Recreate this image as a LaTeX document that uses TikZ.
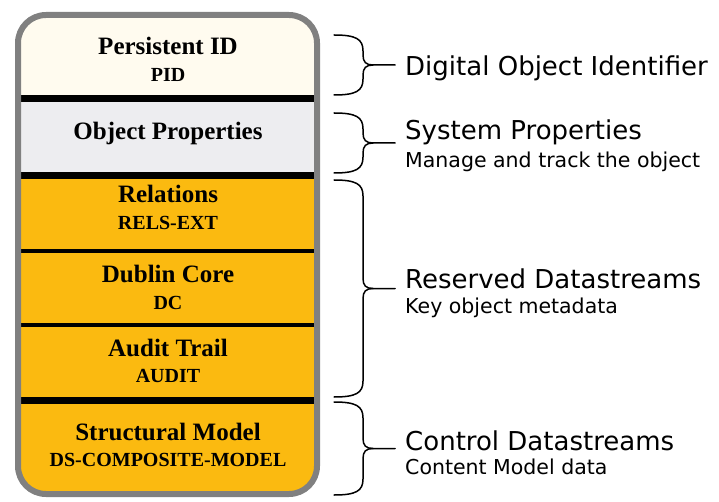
\documentclass[tikz,border=0pt]{standalone}
\usepackage{fontspec}
\setmainfont{Liberation Serif}
\newfontfamily\labelfont{DejaVu Sans}
\usepackage{xcolor}
\usetikzlibrary{positioning}

\definecolor{pidcream}{HTML}{FFFBEF}
\definecolor{propgrey}{HTML}{EDEDF0}
\definecolor{dsorange}{HTML}{FBBA10}
\definecolor{framegrey}{HTML}{808080}

\tikzset{
  head/.style={font=\bfseries\fontsize{25}{28}\selectfont, inner sep=0pt, anchor=base},
  tag/.style={font=\bfseries\fontsize{20}{22}\selectfont, inner sep=0pt, anchor=base},
  bigtext/.style={font=\labelfont\fontsize{26}{30}\selectfont, inner sep=0pt, anchor=base west},
  smalltext/.style={font=\labelfont\fontsize{20.5}{24}\selectfont, inner sep=0pt, anchor=base west},
  bracket/.style={line width=1.5pt, line cap=round},
  thickbar/.style={line width=7pt},
  thinbar/.style={line width=4pt},
}

% curly bracket on the right of the stack: top y, bottom y, tip name
\newcommand{\sidebrace}[3]{%
  \pgfmathsetmacro\braceMid{(#1+#2)/2}
  \draw[bracket] (334,#1) .. controls (356,#1) and (363,#1+4) .. (363,#1+16)
    -- (363,\braceMid-10) .. controls (363,\braceMid-3) and (366,\braceMid) .. (373,\braceMid)
    -- (395,\braceMid) coordinate (#3);
  \draw[bracket] (373,\braceMid) .. controls (366,\braceMid) and (363,\braceMid+3) .. (363,\braceMid+10)
    -- (363,#2-16) .. controls (363,#2-4) and (356,#2) .. (334,#2);
}

\begin{document}
\begin{tikzpicture}[x=1pt, y=-1pt]
  \useasboundingbox (0,0) rectangle (719,502);

  % the object stack
  \begin{scope}
    \clip[rounded corners=26pt] (18,15) rectangle (317,494);
    \fill[pidcream] (18,15) rectangle (317,98);
    \fill[propgrey] (18,98) rectangle (317,176);
    \fill[dsorange] (18,176) rectangle (317,494);
    \draw[thickbar] (18,98.5) -- (317,98.5);
    \draw[thickbar] (18,175.5) -- (317,175.5);
    \draw[thinbar] (18,251) -- (317,251);
    \draw[thinbar] (18,325) -- (317,325);
    \draw[thickbar] (18,400) -- (317,400);
  \end{scope}
  \draw[framegrey, line width=6pt, rounded corners=28pt] (18,15) rectangle (317,494);

  \node (pid) [head] at (168,55) {Persistent ID};
  \node (pidtag) [tag] at (168,82) {PID};
  \node (props) [head] at (168,140) {Object Properties};
  \node (rels) [head] at (168,203) {Relations};
  \node (relstag) [tag] at (168,230) {RELS-EXT};
  \node (dc) [head] at (168,283) {Dublin Core};
  \node (dctag) [tag] at (168,309) {DC};
  \node (audit) [head] at (168,356) {Audit Trail};
  \node (audittag) [tag] at (168,382) {AUDIT};
  \node (model) [head] at (168,440) {Structural Model};
  \node (modeltag) [tag] at (168,466) {DS-COMPOSITE-MODEL};

  % brackets and their labels
  \sidebrace{35}{95}{tipid}
  \sidebrace{113}{173}{tipsys}
  \sidebrace{180}{397}{tipres}
  \sidebrace{402}{495}{tipctl}

  \node (doi) [bigtext] at (405,76) {Digital Object Identifier};
  \node (sys) [bigtext] at (405,140) {System Properties};
  \node (sysnote) [smalltext] at (405,168) {Manage and track the object};
  \node (res) [bigtext] at (405,288) {Reserved Datastreams};
  \node (resnote) [smalltext] at (405,313) {Key object metadata};
  \node (ctl) [bigtext] at (405,450) {Control Datastreams};
  \node (ctlnote) [smalltext] at (405,474) {Content Model data};
\end{tikzpicture}
\end{document}
